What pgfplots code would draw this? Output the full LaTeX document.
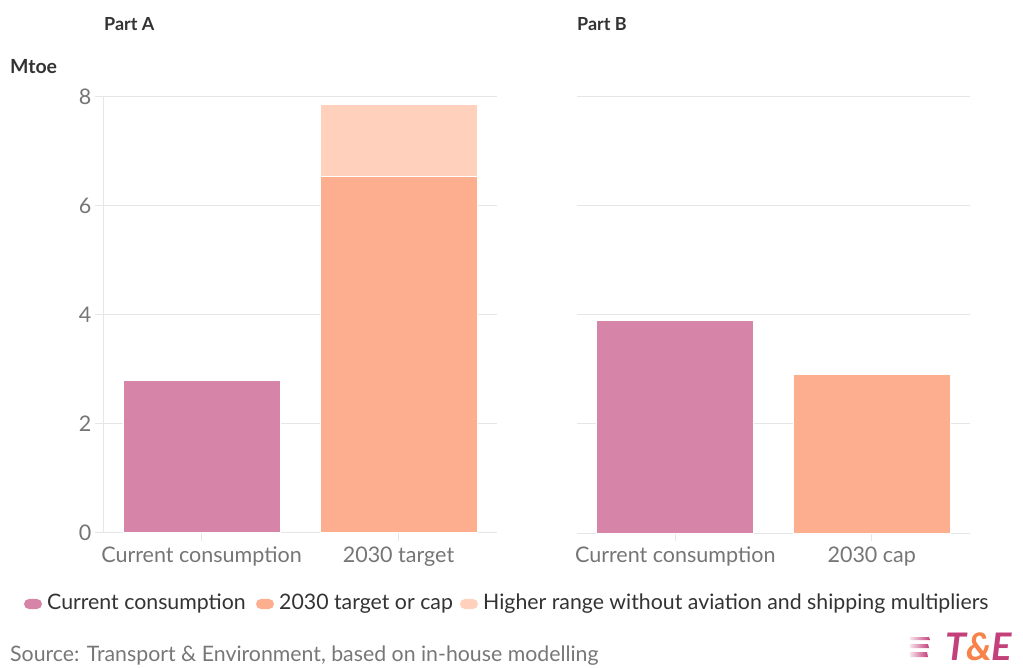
\documentclass[border=0pt]{standalone}
\usepackage{fontspec}
\setmainfont{Lato}
\usepackage{pgfplots}
\pgfplotsset{compat=1.18}

\definecolor{curc}{HTML}{D685A9}
\definecolor{tgtc}{HTML}{FDAE8F}
\definecolor{hic}{HTML}{FFD1BC}
\definecolor{gridc}{HTML}{E6E6E6}
\definecolor{tickc}{HTML}{757575}
\definecolor{titlec}{HTML}{333333}
\definecolor{srcc}{HTML}{777777}
\definecolor{logom}{HTML}{C3407B}
\definecolor{logoo}{HTML}{F7834A}

\pgfplotsset{
  panel/.style={
    scale only axis,
    height=436pt,
    anchor=south west,
    xmin=-0.5, xmax=1.5,
    ymin=0, ymax=8,
    ytick={0,2,4,6,8},
    xtick={0,1},
    ymajorgrids,
    grid style={color=gridc, line width=1pt},
    axis x line*=bottom,
    axis y line*=left,
    axis line style={color=gridc, line width=1pt},
    tick align=outside,
    major tick length=8pt,
    x tick style={color=gridc, line width=1pt},
    y tick style={color=gridc, line width=1pt},
    tick label style={font=\fontsize{21.5}{24}\selectfont, text=tickc},
    xticklabel style={yshift=-2pt},
    /pgf/number format/assume math mode=true,
    ybar stacked,
    bar width=157pt,
    every axis plot/.append style={draw=white, line width=1pt},
  }
}

\begin{document}
\begin{tikzpicture}[x=1pt,y=1pt]
\useasboundingbox (0,0) rectangle (1023,667);

% Part A: current consumption and 2030 target
\begin{axis}[panel, at={(103pt,134pt)}, width=394pt,
  xticklabels={Current consumption, 2030 target}]
  \addplot[fill=curc] coordinates {(0,2.8) (1,0)};
  \addplot[fill=tgtc] coordinates {(0,0) (1,6.55)};
  \addplot[fill=hic]  coordinates {(0,0) (1,1.32)};
\end{axis}

% Part B: current consumption and 2030 cap
\begin{axis}[panel, at={(577pt,134pt)}, width=393pt,
  y axis line style={draw=none},
  y tick style={draw=none},
  yticklabels={},
  xticklabels={Current consumption, 2030 cap}]
  \addplot[fill=curc] coordinates {(0,3.9) (1,0)};
  \addplot[fill=tgtc] coordinates {(0,0) (1,2.9)};
\end{axis}

% Titles
\node[anchor=west, inner sep=0pt, text=titlec, font=\bfseries\fontsize{18}{21}\selectfont] at (104,643) {Part A};
\node[anchor=west, inner sep=0pt, text=titlec, font=\bfseries\fontsize{18}{21}\selectfont] at (577,643) {Part B};
\node[anchor=west, inner sep=0pt, text=titlec, font=\bfseries\fontsize{19.5}{22}\selectfont] at (10,600) {Mtoe};

% Legend
\fill[curc, rounded corners=5pt] (24,58) rectangle (42,68);
\node[anchor=west, inner sep=0pt, text=titlec, font=\fontsize{21.3}{24}\selectfont] at (47,63) {Current consumption};
\fill[tgtc, rounded corners=5pt] (256,58) rectangle (274,68);
\node[anchor=west, inner sep=0pt, text=titlec, font=\fontsize{21.3}{24}\selectfont] at (279,63) {2030 target or cap};
\fill[hic, rounded corners=5pt] (460,58) rectangle (478,68);
\node[anchor=west, inner sep=0pt, text=titlec, font=\fontsize{21.3}{24}\selectfont] at (483,63) {Higher range without aviation and shipping multipliers};

% Source
\node[anchor=west, inner sep=0pt, text=srcc, font=\fontsize{21.3}{24}\selectfont] at (10,11) {Source: Transport \& Environment, based on in-house modelling};

% Logo
\shade[left color=logom!15, right color=logom] (910,27) -- (930,27) -- (929,30) -- (910,30) -- cycle;
\shade[left color=logom!15, right color=logom] (910,19) -- (929,19) -- (928,23) -- (910,23) -- cycle;
\shade[left color=logom!15, right color=logom] (910,10) -- (928,10) -- (927,15) -- (910,15) -- cycle;
\node[anchor=west, inner sep=0pt, font=\bfseries\itshape\fontsize{38}{42}\selectfont] at (945,20)
  {\textcolor{logom}{T}\textcolor{logoo}{\&}\textcolor{logom}{E}};
\end{tikzpicture}
\end{document}
